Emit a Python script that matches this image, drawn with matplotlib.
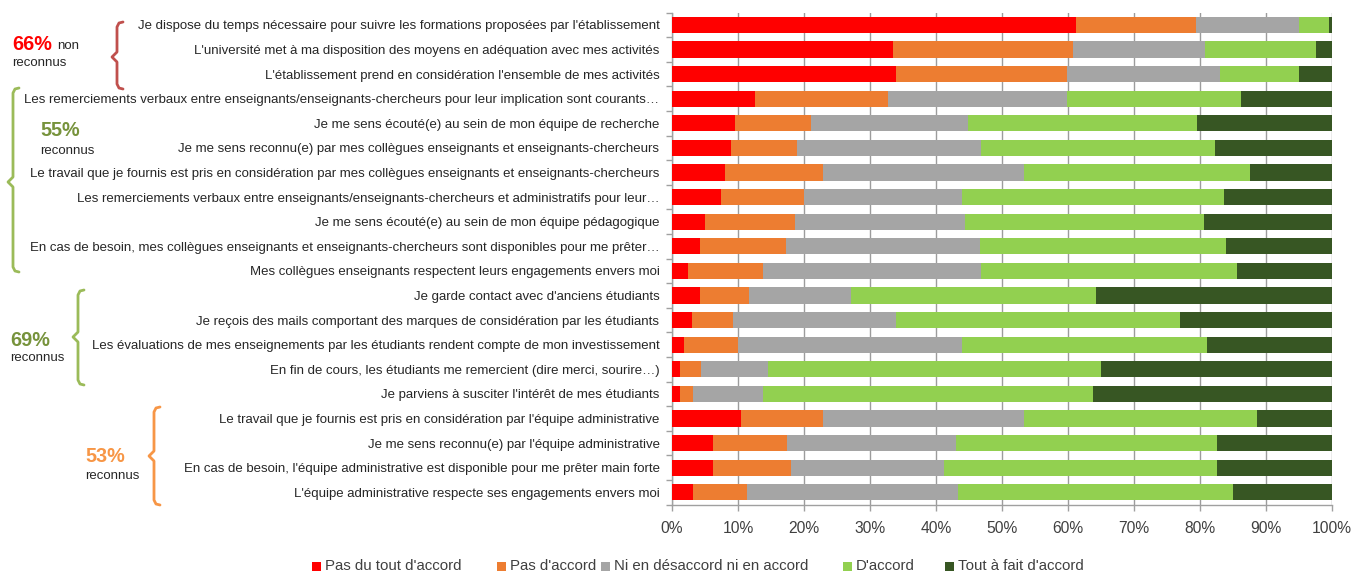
import matplotlib
matplotlib.use('Agg')
import matplotlib.pyplot as plt
from matplotlib import font_manager
from matplotlib.lines import Line2D
from matplotlib.patches import Rectangle
import numpy as np

# ---------------- data ----------------
categories = [
    "Je dispose du temps nécessaire pour suivre les formations proposées par l'établissement",
    "L'université met à ma disposition des moyens en adéquation avec mes activités",
    "L'établissement prend en considération l'ensemble de mes activités",
    "Les remerciements verbaux entre enseignants/enseignants-chercheurs pour leur implication sont courants…",
    "Je me sens écouté(e) au sein de mon équipe de recherche",
    "Je me sens reconnu(e) par mes collègues enseignants et enseignants-chercheurs",
    "Le travail que je fournis est pris en considération par mes collègues enseignants et enseignants-chercheurs",
    "Les remerciements verbaux entre enseignants/enseignants-chercheurs et administratifs pour leur…",
    "Je me sens écouté(e) au sein de mon équipe pédagogique",
    "En cas de besoin, mes collègues enseignants et enseignants-chercheurs sont disponibles pour me prêter…",
    "Mes collègues enseignants respectent leurs engagements envers moi",
    "Je garde contact avec d'anciens étudiants",
    "Je reçois des mails comportant des marques de considération par les étudiants",
    "Les évaluations de mes enseignements par les étudiants rendent compte de mon investissement",
    "En fin de cours, les étudiants me remercient (dire merci, sourire…)",
    "Je parviens à susciter l'intérêt de mes étudiants",
    "Le travail que je fournis est pris en considération par l'équipe administrative",
    "Je me sens reconnu(e) par l'équipe administrative",
    "En cas de besoin, l'équipe administrative est disponible pour me prêter main forte",
    "L'équipe administrative respecte ses engagements envers moi",
]
pas_du_tout = [61.2, 33.5, 34.0, 12.6, 9.5, 8.9, 8.1, 7.4, 5.0, 4.2, 2.4, 4.2, 3.1, 1.8, 1.2, 1.2, 10.5, 6.2, 6.2, 3.2]
pas_accord = [18.2, 27.2, 25.8, 20.1, 11.6, 10.0, 14.8, 12.6, 13.7, 13.0, 11.4, 7.5, 6.2, 8.2, 3.2, 2.0, 12.4, 11.2, 11.9, 8.1]
neutre = [15.6, 20.0, 23.3, 27.1, 23.7, 27.9, 30.4, 23.9, 25.7, 29.4, 33.0, 15.4, 24.7, 33.9, 10.1, 10.6, 30.4, 25.7, 23.1, 32.1]
accord = [4.5, 16.8, 11.9, 26.4, 34.7, 35.5, 34.3, 39.7, 36.2, 37.3, 38.8, 37.1, 43.0, 37.1, 50.5, 50.0, 35.4, 39.4, 41.3, 41.6]
tout_a_fait = [0.5, 2.5, 5.0, 13.8, 20.5, 17.7, 12.4, 16.4, 19.4, 16.1, 14.4, 35.8, 23.0, 19.0, 35.0, 36.2, 11.3, 17.5, 17.5, 15.0]

series_names = ["Pas du tout d'accord", "Pas d'accord", "Ni en désaccord ni en accord",
                "D'accord", "Tout à fait d'accord"]
series_colors = ['#FF0000', '#ED7D31', '#A5A5A5', '#92D050', '#375623']
x_ticks = list(range(0, 101, 10))
x_tick_labels = [f"{v}%" for v in x_ticks]

group_pcts = ["66%", "55%", "69%", "53%"]
group_pct_colors = ['#FF0000', '#77933C', '#77933C', '#F79646']
group_brace_colors = ['#C0504D', '#9BBB59', '#9BBB59', '#F79646']

# ---------------- fonts ----------------
def pick(fams):
    for f in fams:
        try:
            font_manager.findfont(font_manager.FontProperties(family=f), fallback_to_default=False)
            return f
        except Exception:
            pass
    return 'DejaVu Sans'

FAM = pick(['Liberation Sans Narrow', 'DejaVu Sans Condensed', 'Liberation Sans', 'DejaVu Sans'])

W, H = 1354, 574
fig = plt.figure(figsize=(W / 100, H / 100), dpi=100)
renderer = fig.canvas.get_renderer()


def fit(text, target, family=FAM, weight='normal'):
    t = fig.text(0, 0, text, fontsize=10, family=family, weight=weight)
    w = t.get_window_extent(renderer=renderer).width
    t.remove()
    return 10 * target / w


cat_fs = fit(categories[6], 632)
tick_fs = fit("100%", 40)
leg_widths = [122, 75, 203, 59, 127]
leg_fs = float(np.median([fit(n, w) for n, w in zip(series_names, leg_widths)]))

# ---------------- main axes ----------------
ax_l, ax_r, ax_t, ax_b = 672, 1332, 12.7, 504.5
ax = fig.add_axes([ax_l / W, 1 - ax_b / H, (ax_r - ax_l) / W, (ax_b - ax_t) / H])

series = [pas_du_tout, pas_accord, neutre, accord, tout_a_fait]
y = np.arange(len(categories))
left = np.zeros(len(categories))
for vals, name, col in zip(series, series_names, series_colors):
    vals = np.array(vals)
    ax.barh(y, vals, left=left, height=0.66, color=col, label=name, zorder=3, linewidth=0)
    left += vals

ax.set_xlim(0, 100)
ax.set_ylim(len(categories) - 0.5, -0.5)
ax.set_xticks(x_ticks)
ax.set_xticklabels(x_tick_labels, fontsize=tick_fs, family=FAM, color='#404040')
ax.set_yticks(y)
ax.set_yticklabels(categories, fontsize=cat_fs, family=FAM, color='#262626')
ax.tick_params(axis='y', which='major', length=0, pad=9)
ax.set_yticks(np.arange(-0.5, len(categories), 1), minor=True)
ax.tick_params(axis='y', which='minor', length=4, color='#A0A0A0', width=1)
ax.tick_params(axis='x', which='major', length=4, color='#A0A0A0', width=1, pad=8)
ax.grid(axis='x', color='#9C9C9C', linewidth=1.0, zorder=0)
ax.set_axisbelow(True)
for s in ['top', 'right']:
    ax.spines[s].set_visible(False)
for s in ['left', 'bottom']:
    ax.spines[s].set_color('#A0A0A0')
    ax.spines[s].set_linewidth(1.0)

# ---------------- overlay for annotations / legend ----------------
ov = fig.add_axes([0, 0, 1, 1])
ov.set_xlim(0, W)
ov.set_ylim(H, 0)
ov.axis('off')
ov.patch.set_alpha(0)


def brace(x, top, bot, mid, color):
    xs = [x + 6, x + 2, x, x, x - 5, x, x, x + 2, x + 6]
    ys = [top, top + 1, top + 5, mid - 5, mid, mid + 5, bot - 5, bot - 1, bot]
    ov.add_line(Line2D(xs, ys, color=color, linewidth=2.0, solid_capstyle='round',
                       solid_joinstyle='round'))


pct_fs = fit("66%", 40, weight='bold')
small_fs = fit("reconnus", 55)

brace_geo = [(117, 22, 89, 57), (13, 88, 272, 182), (78, 290, 385, 337), (154, 407, 505, 456)]
pct_pos = [(12, 45), (40, 130), (10, 340), (85, 456)]
rec_pos = [(12, 63), (40, 151), (10, 358), (85, 476)]
for i in range(4):
    brace(*brace_geo[i], group_brace_colors[i])
    ov.text(*pct_pos[i], group_pcts[i], color=group_pct_colors[i], fontsize=pct_fs,
            weight='bold', family=FAM, ha='left', va='center')
    ov.text(*rec_pos[i], "reconnus", color='#262626', fontsize=small_fs, family=FAM,
            ha='left', va='center')
ov.text(57, 46, "non", color='#262626', fontsize=small_fs, family=FAM, ha='left', va='center')

# legend
leg_x = [312, 497, 601, 843, 945]
leg_y = 566
for lx, name, col in zip(leg_x, series_names, series_colors):
    ov.add_patch(Rectangle((lx, leg_y - 4.5), 9, 9, color=col, linewidth=0))
    ov.text(lx + 13, leg_y, name, fontsize=leg_fs, family=FAM, color='#404040',
            ha='left', va='center')

fig.savefig('out.png', dpi=100)
